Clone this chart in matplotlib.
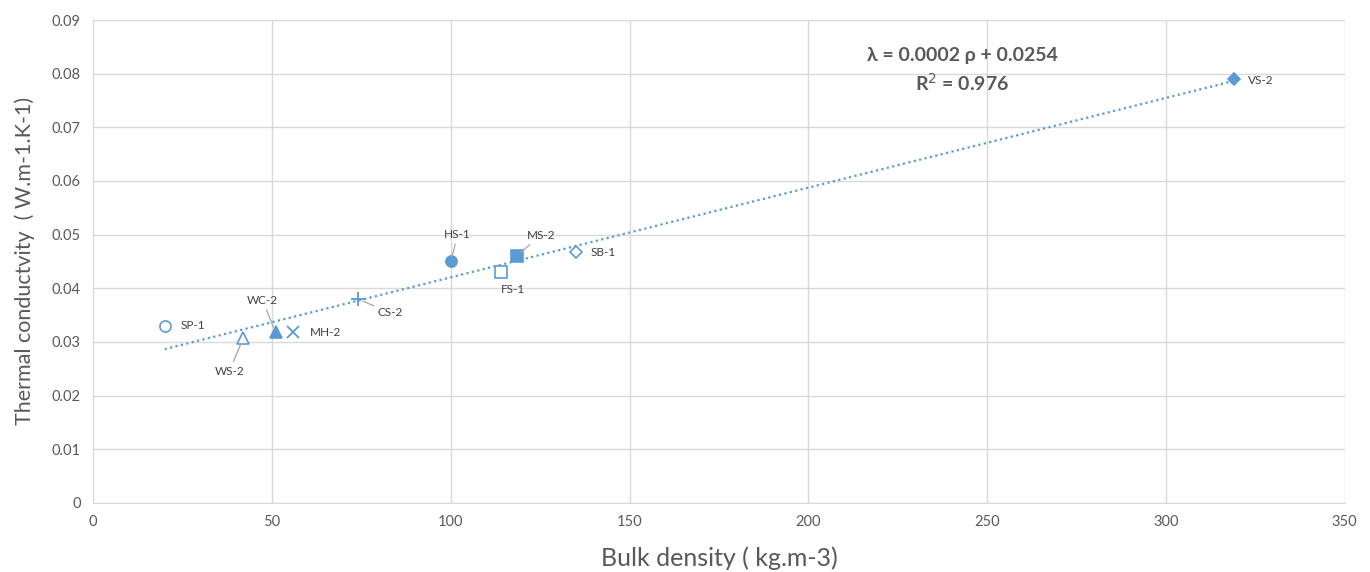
import numpy as np
import matplotlib
matplotlib.use("Agg")
import matplotlib.pyplot as plt

# data
names = ["SP-1", "WS-2", "WC-2", "MH-2", "CS-2", "HS-1", "FS-1", "MS-2", "SB-1", "VS-2"]
density = [20, 42, 51, 56, 74, 100, 114, 118.5, 135, 319]
conductivity = [0.033, 0.0307, 0.0318, 0.0318, 0.038, 0.045, 0.0431, 0.0461, 0.0467, 0.079]

x_ticks = [0, 50, 100, 150, 200, 250, 300, 350]
y_ticks = [0, 0.01, 0.02, 0.03, 0.04, 0.05, 0.06, 0.07, 0.08, 0.09]

equation = "λ = 0.0002 ρ + 0.0254"
r2_text = "R$^{2}$ = 0.976"

blue = "#5B9BD5"
grey_txt = "#595959"
grid_col = "#D9D9D9"

# marker style per sample: (marker, filled, size)
styles = {
    "SP-1": ("o", False, 8),
    "WS-2": ("^", False, 9),
    "WC-2": ("^", True, 9),
    "MH-2": ("x", True, 9),
    "CS-2": ("+", True, 10),
    "HS-1": ("o", True, 8),
    "FS-1": ("s", False, 8),
    "MS-2": ("s", True, 8),
    "SB-1": ("D", False, 6),
    "VS-2": ("D", True, 6),
}
# label offsets in pixels, alignment, leader line
label_pos = {
    "SP-1": ((16, 0), "left", False),
    "WS-2": ((-14, -33), "center", True),
    "WC-2": ((-13, 32), "center", True),
    "MH-2": ((16, 0), "left", False),
    "CS-2": ((20, -14), "left", True),
    "HS-1": ((7, 27), "center", True),
    "FS-1": ((12, -18), "center", False),
    "MS-2": ((24, 20), "center", True),
    "SB-1": ((15, 0), "left", False),
    "VS-2": ((14, -1), "left", False),
}

plt.rcParams["font.family"] = ["Lato", "DejaVu Sans"]

fig = plt.figure(figsize=(13.7, 5.72), dpi=100)
ax = fig.add_axes([0.068, 0.121, 0.9135, 0.844])

# trendline
coef = np.polyfit(density, conductivity, 1)
xs = np.array([min(density), max(density)])
ax.plot(xs, np.polyval(coef, xs), linestyle=(0, (1, 1.5)), color=blue, lw=1.6, zorder=2)

for n, x, y in zip(names, density, conductivity):
    m, filled, s = styles[n]
    if m in ("x", "+"):
        ax.plot(x, y, marker=m, color=blue, markersize=s, mew=1.3, linestyle="none", zorder=3)
    else:
        ax.plot(x, y, marker=m, markersize=s, linestyle="none", zorder=3,
                markerfacecolor=blue if filled else "white",
                markeredgecolor=blue, mew=1.2)
    off, ha, line = label_pos[n]
    ax.annotate(n, (x, y), xytext=off, textcoords="offset pixels",
                ha=ha, va="center", fontsize=8.5, color="#404040",
                arrowprops=dict(arrowstyle="-", color="#A6A6A6", lw=0.9,
                                shrinkA=1, shrinkB=4) if line else None)

ax.text(243, 0.0833, equation, ha="center", va="center", fontsize=14,
        fontweight="bold", color=grey_txt)
ax.text(243, 0.0782, r2_text, ha="center", va="center", fontsize=14,
        fontweight="bold", color=grey_txt)

ax.set_xlim(0, 350)
ax.set_ylim(0, 0.09)
ax.set_xticks(x_ticks)
ax.set_yticks(y_ticks)
ax.set_yticklabels(["0" if v == 0 else f"{v:.2f}" for v in y_ticks])
ax.tick_params(length=0, labelsize=10.5, colors=grey_txt, pad=9)
ax.grid(True, color=grid_col, lw=1)
ax.set_axisbelow(True)
for sp in ["top", "right"]:
    ax.spines[sp].set_visible(False)
for sp in ["left", "bottom"]:
    ax.spines[sp].set_color(grid_col)

ax.set_xlabel("Bulk density ( kg.m-3)", fontsize=18, color=grey_txt, labelpad=12)
ax.set_ylabel("Thermal conductvity  ( W.m-1.K-1)", fontsize=15.5, color=grey_txt, labelpad=12)

fig.savefig("out.png", dpi=100)
